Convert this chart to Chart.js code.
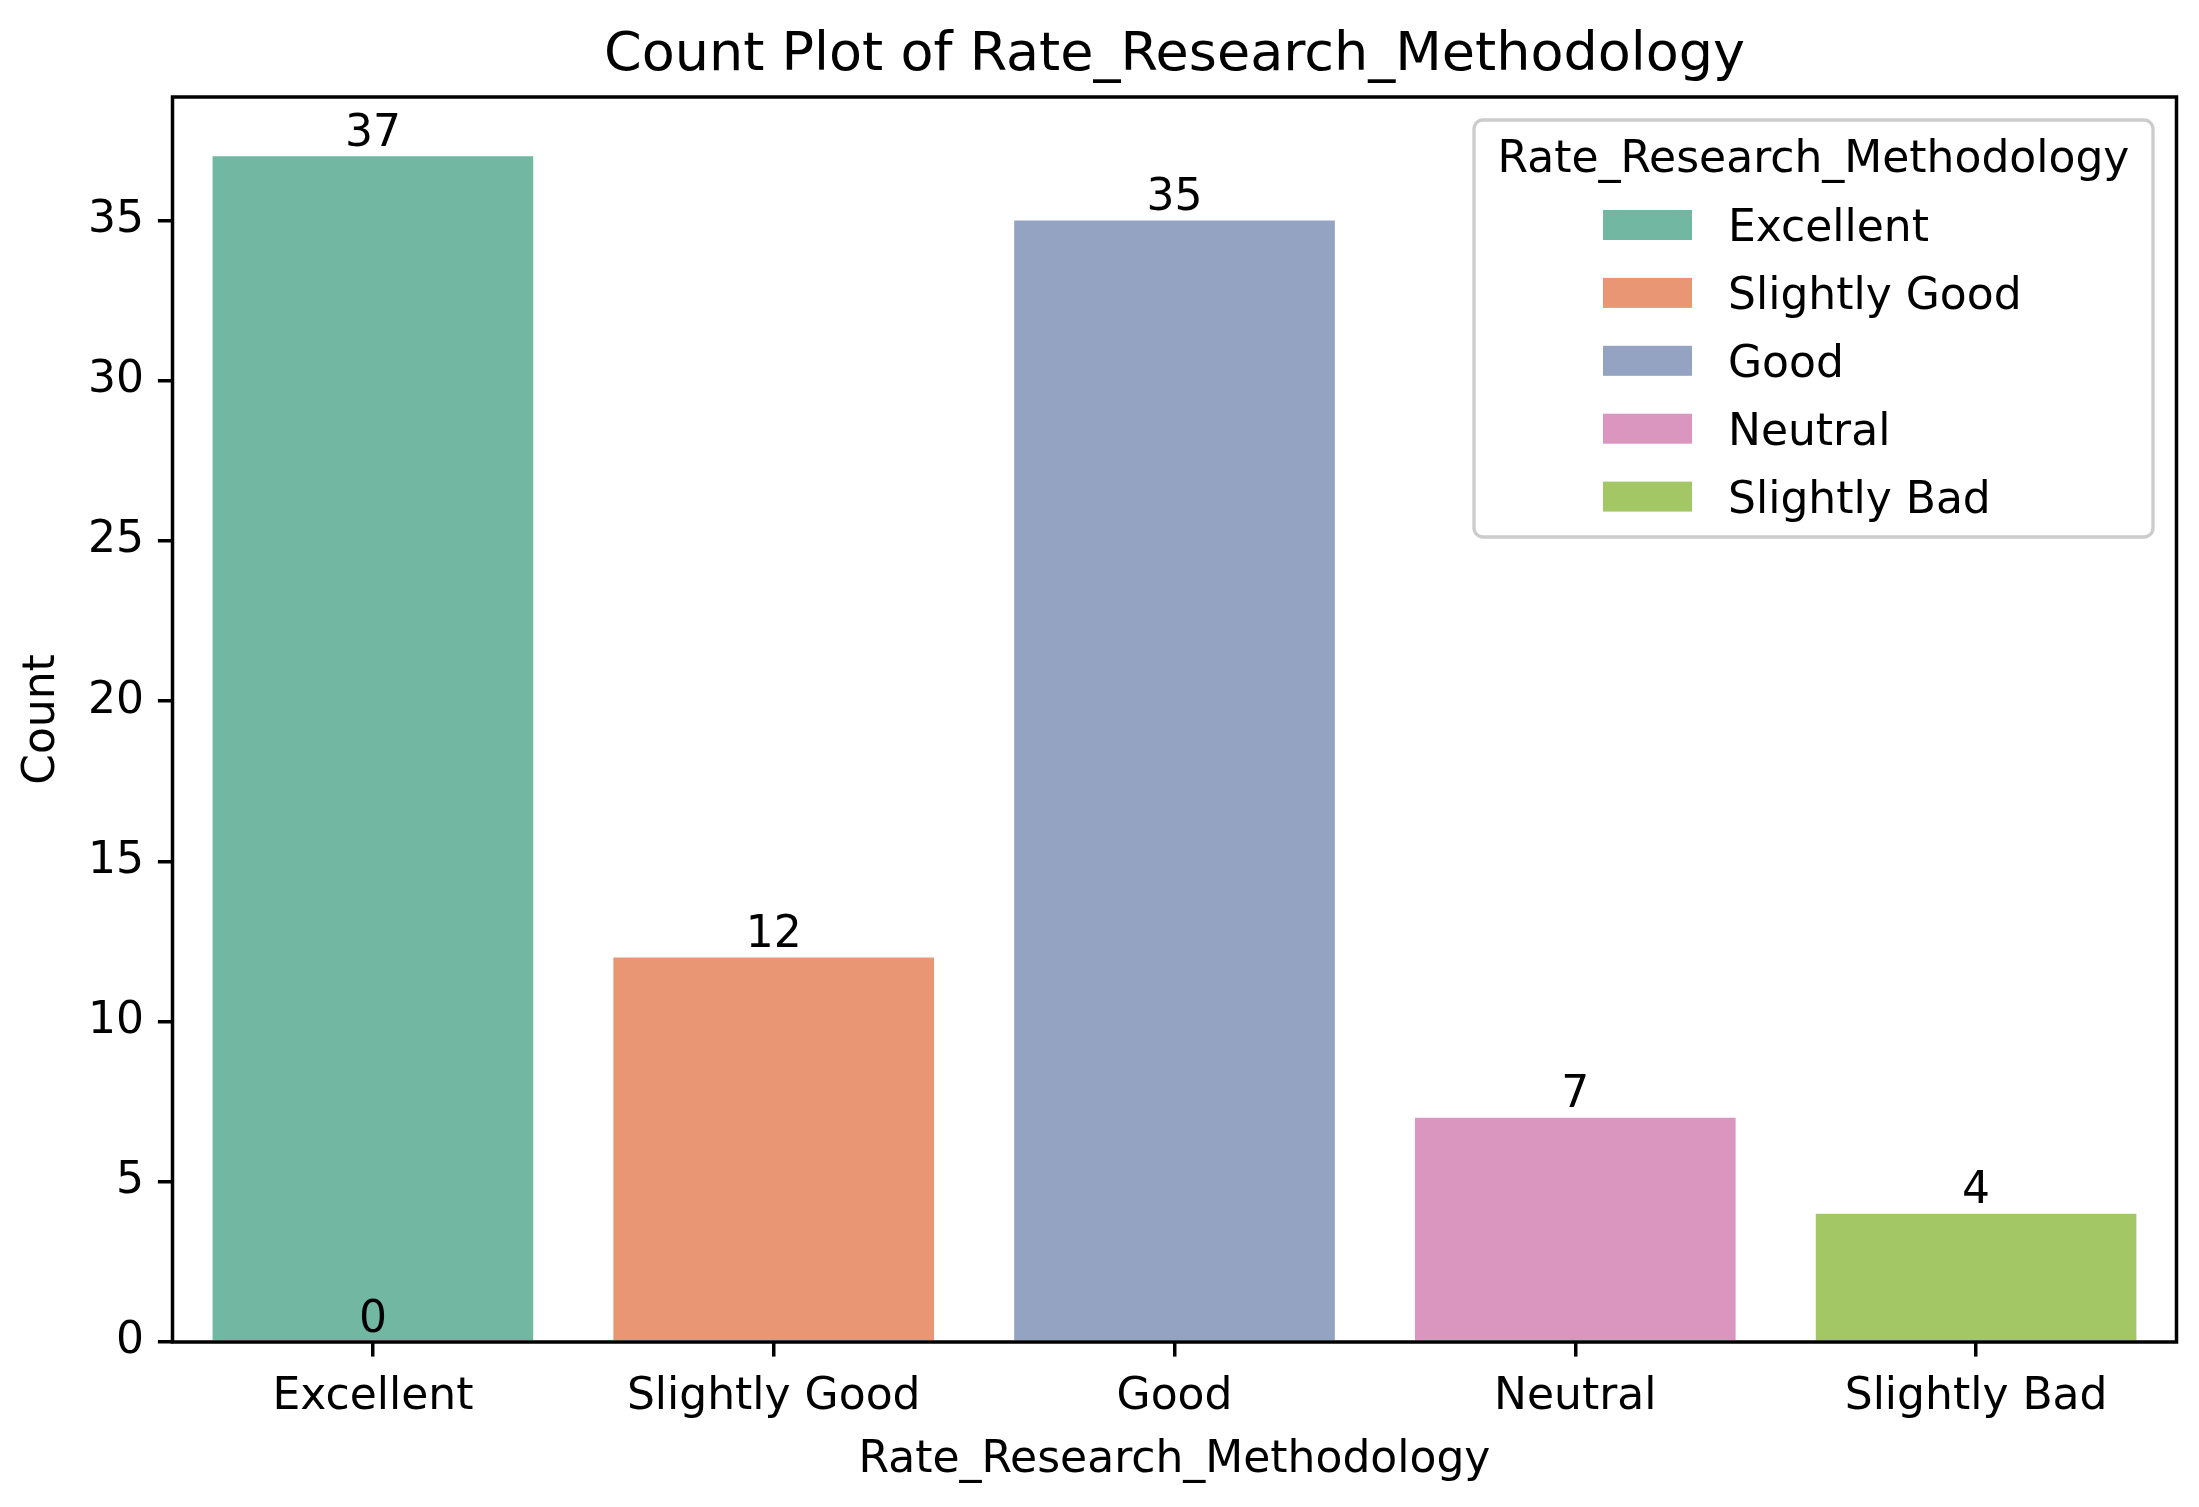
<!DOCTYPE html>
<html><head><meta charset="utf-8">
<script src="https://cdn.jsdelivr.net/npm/chart.js@4.4.1/dist/chart.umd.min.js"></script>
<style>html,body{margin:0;padding:0;background:#fff;overflow:hidden}canvas{display:block}</style>
</head><body>
<canvas id="c" width="2199" height="1507" style="width:2199px;height:1507px"></canvas>
<script>
// ---- data ----
const categories = ['Excellent', 'Slightly Good', 'Good', 'Neutral', 'Slightly Bad'];
const counts = [37, 12, 35, 7, 4];
const barColors = ['#71b7a1', '#e99675', '#95a3c3', '#db96c0', '#a2c764'];
const zeroLabelCategories = ['Excellent'];   // extra "0" label printed at the base
const yTickStep = 5;
const yAxisMax = 38.85;
const chartTitle = 'Count Plot of Rate_Research_Methodology';
const xAxisTitle = 'Rate_Research_Methodology';
const yAxisTitle = 'Count';
const legendTitle = 'Rate_Research_Methodology';

const FONT = '"DejaVu Sans", "Liberation Sans", sans-serif';
const FS = 44;
const LW = 3.5;
Chart.defaults.font.family = FONT;
Chart.defaults.color = '#000';

const overlay = {
  id: 'overlay',
  afterDraw(chart) {
    const ctx = chart.ctx;
    const a = chart.chartArea;
    const meta = chart.getDatasetMeta(0);
    const yS = chart.scales.y;
    ctx.save();
    // spines
    ctx.strokeStyle = '#000';
    ctx.lineWidth = LW;
    ctx.strokeRect(a.left, a.top, a.right - a.left, a.bottom - a.top);
    // bar labels
    ctx.fillStyle = '#000';
    ctx.font = FS + 'px ' + FONT;
    ctx.textAlign = 'center';
    ctx.textBaseline = 'alphabetic';
    const desc = 0.236 * FS;
    meta.data.forEach((bar, i) => {
      ctx.fillText(String(counts[i]), bar.x, bar.y - desc);
    });
    zeroLabelCategories.forEach(cat => {
      const i = categories.indexOf(cat);
      ctx.fillText('0', meta.data[i].x, yS.getPixelForValue(0) - desc);
    });
    // title
    ctx.font = '54px ' + FONT;
    ctx.fillText(chartTitle, (a.left + a.right) / 2, a.top - 27);
    // legend
    const bw = 679, bh = 417;
    const bx = a.right - 23.5 - bw, by = a.top + 23;
    ctx.beginPath();
    ctx.roundRect(bx, by, bw, bh, 9);
    ctx.fillStyle = 'rgba(255,255,255,0.8)';
    ctx.fill();
    ctx.strokeStyle = '#cccccc';
    ctx.lineWidth = 3.3;
    ctx.stroke();
    ctx.fillStyle = '#000';
    ctx.font = FS + 'px ' + FONT;
    ctx.textAlign = 'center';
    ctx.fillText(legendTitle, bx + bw / 2, by + 52);
    ctx.textAlign = 'left';
    categories.forEach((cat, i) => {
      const cy = by + 105 + i * 67.9;
      ctx.fillStyle = barColors[i];
      ctx.fillRect(bx + 129, cy - 15, 89, 30);
      ctx.fillStyle = '#000';
      ctx.fillText(cat, bx + 254, cy + 16);
    });
    ctx.restore();
  }
};

new Chart(document.getElementById('c'), {
  type: 'bar',
  data: {
    labels: categories,
    datasets: [{
      data: counts,
      backgroundColor: barColors,
      borderWidth: 0,
      barPercentage: 0.8,
      categoryPercentage: 1.0
    }]
  },
  options: {
    responsive: false,
    animation: false,
    devicePixelRatio: 1,
    layout: { padding: { top: 97, right: 22.5, left: 0, bottom: 0 } },
    plugins: { legend: { display: false }, title: { display: false }, tooltip: { enabled: false } },
    scales: {
      x: {
        offset: true,
        grid: { display: true, drawOnChartArea: false, offset: false, tickLength: 14.6, lineWidth: LW, color: '#000' },
        border: { display: false },
        ticks: { font: { size: FS }, color: '#000', padding: 15, maxRotation: 0, autoSkip: false },
        title: { display: true, text: xAxisTitle, font: { size: FS }, color: '#000', padding: { top: 0, bottom: 20 } },
        afterFit(s) { s.height = 165; }
      },
      y: {
        min: 0,
        max: yAxisMax,
        grid: { display: true, drawOnChartArea: false, tickLength: 14.6, lineWidth: LW, color: '#000' },
        border: { display: false },
        ticks: { stepSize: yTickStep, includeBounds: false, font: { size: FS }, color: '#000', padding: 14 },
        title: { display: true, text: yAxisTitle, font: { size: FS }, color: '#000', padding: { top: 16.6, bottom: 0 } },
        afterFit(s) { s.width = 172.5; }
      }
    }
  },
  plugins: [overlay]
});
</script>
</body></html>
